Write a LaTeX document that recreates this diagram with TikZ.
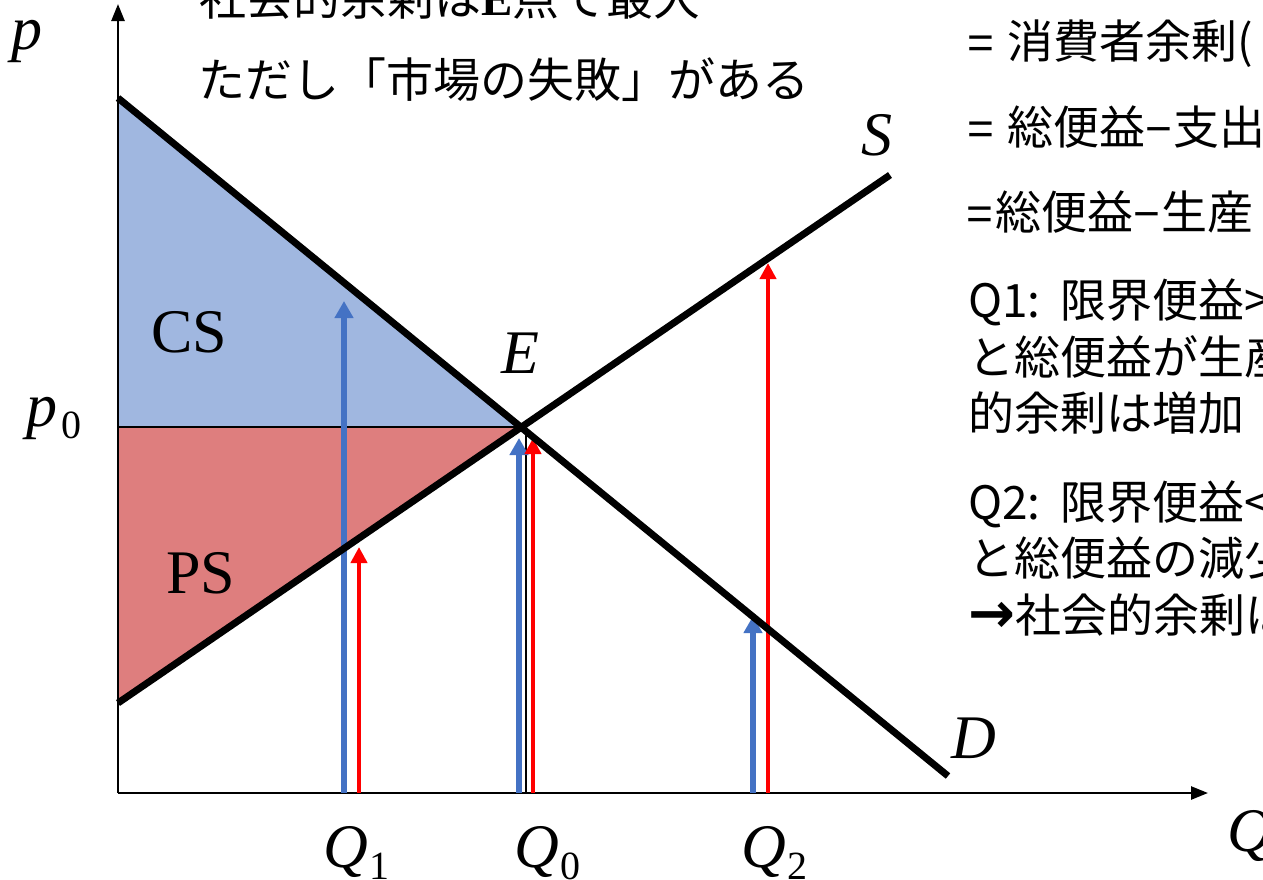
\documentclass[tikz,border=0pt]{standalone}
\usepackage{fontspec}
\setmainfont{Liberation Serif}
\newfontfamily\jp{Noto Sans CJK JP}
\newfontfamily\lsans{Liberation Sans}
\newfontfamily\djv{DejaVu Sans}
\usetikzlibrary{arrows.meta}
\definecolor{csblue}{RGB}{160,183,224}
\definecolor{psred}{RGB}{222,126,126}
\definecolor{qblue}{RGB}{68,114,196}
\definecolor{qred}{RGB}{255,0,0}
\newcommand{\subsc}[2][2pt]{\kern#1\raisebox{-12pt}{\fontsize{40}{40}\selectfont\upshape #2}}
\begin{document}
\begin{tikzpicture}[x=1pt,y=-1pt,
  lbl/.style={inner sep=0pt,anchor=base west,font=\fontsize{62}{62}\selectfont\itshape},
  rmlbl/.style={inner sep=0pt,anchor=base west,font=\fontsize{62}{62}\selectfont},
  jptop/.style={inner sep=0pt,anchor=base west,font=\jp\fontsize{47}{47}\selectfont},
  jpr/.style={inner sep=0pt,anchor=base west,font=\jp\fontsize{46}{46}\selectfont},
  axisline/.style={line width=2.5pt,-{Triangle[width=13pt,length=17pt]}},
  curveline/.style={line width=7pt},
  barb/.style={qblue,line width=6pt,-{Triangle[width=18pt,length=17pt]}},
  barr/.style={qred,line width=4.5pt,-{Triangle[width=16pt,length=16pt]}},
]
\useasboundingbox (0,0) rectangle (1263,879);
\clip (0,0) rectangle (1263,879);
\fill[white] (0,0) rectangle (1263,879);

% key points
\coordinate (O) at (118,793);
\coordinate (ytip) at (118,4);
\coordinate (xtip) at (1208,793);
\coordinate (Dtop) at (118,98);
\coordinate (Dend) at (948,776);
\coordinate (Sbot) at (118,703);
\coordinate (Send) at (890,175);
\coordinate (E) at (520,427);
\coordinate (P0) at (118,427);

% surplus areas
\fill[csblue] (Dtop) -- (E) -- (P0) -- cycle;
\fill[psred] (P0) -- (E) -- (Sbot) -- cycle;
\draw[line width=2pt] (P0) -- (E);

% axes
\draw[axisline] (O) -- (ytip);
\draw[axisline] (O) -- (xtip);

% thin line under E
\coordinate (Eb) at (526,430);
\coordinate (Ebase) at (526,793);
\draw[line width=1.3pt] (Eb) -- (Ebase);

% arrows
\coordinate (b1s) at (344,793); \coordinate (b1t) at (344,301);
\coordinate (r1s) at (359,793); \coordinate (r1t) at (359,547);
\coordinate (b0s) at (519,793); \coordinate (b0t) at (519,438);
\coordinate (r0s) at (533,793); \coordinate (r0t) at (533,438);
\coordinate (b2s) at (753,793); \coordinate (b2t) at (753,616);
\coordinate (r2s) at (768,793); \coordinate (r2t) at (768,263);
\draw[barb] (b1s) -- (b1t);
\draw[barr] (r1s) -- (r1t);
\draw[barb] (b0s) -- (b0t);
\draw[barr] (r0s) -- (r0t);
\draw[barb] (b2s) -- (b2t);
\draw[barr] (r2s) -- (r2t);

% demand and supply
\draw[curveline] (Dtop) -- (Dend);
\draw[curveline] (Sbot) -- (Send);

% labels
\node[lbl] (lp) at (11,49) {p};
\node[lbl] (lp0) at (26,426) {p\subsc[4pt]{0}};
\node[lbl] (lS) at (861,155) {S};
\node[lbl] (lD) at (951,758) {D};
\node[lbl] (lE) at (501,373) {E};
\node[rmlbl] (lCS) at (151,352) {CS};
\node[rmlbl] (lPS) at (166,593) {PS};
\node[lbl] (lQ1) at (323,867) {Q\subsc{1}};
\node[lbl] (lQ0) at (514,867) {Q\subsc{0}};
\node[lbl] (lQ2) at (741,867) {Q\subsc{2}};
\node[lbl] (lQ) at (1227,851) {Q};

% top-left text
\node[jptop] (t1) at (199,15) {社会的余剰は{\rmfamily\bfseries E}点で最大};
\node[jptop] (t2) at (198,97) {ただし「市場の失敗」がある};

% right text
\node[jpr] (r1) at (967,58) {\makebox[40pt][l]{\lsans =}消費者余剰(};
\node[jpr] (r2) at (967,144) {\makebox[40pt][l]{\lsans =}総便益\makebox[28pt][c]{\lsans −}支出};
\node[jpr] (r3) at (966,229) {\makebox[29pt][l]{\lsans =}総便益\makebox[28pt][c]{\lsans −}生産};
\node[jpr] (r4) at (968,317) {\makebox[92pt][l]{Q1:}限界便益>};
\node[jpr] (r5) at (968,374) {と総便益が生産};
\node[jpr] (r6) at (968,430) {的余剰は増加};
\node[jpr] (r7) at (968,519) {\makebox[92pt][l]{Q2:}限界便益<};
\node[jpr] (r8) at (968,575) {と総便益の減少};
\node[jpr] (r9) at (968,632) {\makebox[47pt][l]{\djv\bfseries\fontsize{56}{56}\selectfont →}社会的余剰は};
\end{tikzpicture}
\end{document}
